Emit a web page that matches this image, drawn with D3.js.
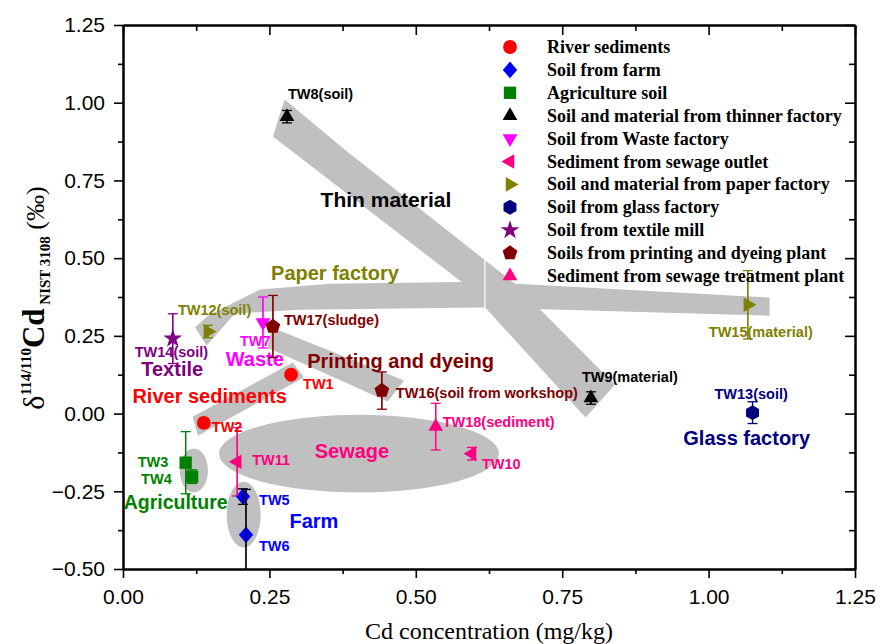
<!DOCTYPE html>
<html>
<head>
<meta charset="utf-8">
<script src="https://cdn.jsdelivr.net/npm/d3@7"></script>
<style>
  body { margin: 0; background: #fff; }
  svg { display: block; }
  .axis text { font-family: Arial, "Liberation Sans", sans-serif; font-size: 21px; fill: #000; }
  .axis path, .axis line { stroke: #000; }
</style>
</head>
<body>
<svg id="chart" width="880" height="644"></svg>
<script>
// ---- data ----
var groupNames = [
  "River sediments",
  "Soil from farm",
  "Agriculture soil",
  "Soil and material from thinner factory",
  "Soil from Waste factory",
  "Sediment from sewage outlet",
  "Soil and material from paper factory",
  "Soil from glass factory",
  "Soil from textile mill",
  "Soils from printing and dyeing plant",
  "Sediment from sewage treatment plant"
];

var sampleIds   = ["TW1", "TW2", "TW3", "TW4", "TW5", "TW6", "TW7", "TW8", "TW9",
                   "TW10", "TW11", "TW12", "TW13", "TW14", "TW15", "TW16", "TW17", "TW18"];
var sampleNames = ["TW1", "TW2", "TW3", "TW4", "TW5", "TW6", "TW7", "TW8(soil)", "TW9(material)",
                   "TW10", "TW11", "TW12(soil)", "TW13(soil)", "TW14(soil)", "TW15(material)",
                   "TW16(soil from workshop)", "TW17(sludge)", "TW18(sediment)"];
var sampleGroup = [0, 0, 2, 2, 1, 1, 4, 3, 3, 5, 5, 6, 7, 8, 6, 9, 9, 10];
var cdConc      = [0.287, 0.138, 0.107, 0.118, 0.205, 0.210, 0.239, 0.280, 0.799,
                   0.596, 0.195, 0.145, 1.075, 0.085, 1.067, 0.442, 0.256, 0.534];
var deltaCd     = [0.125, -0.030, -0.158, -0.203, -0.267, -0.390, 0.293, 0.955, 0.050,
                   -0.129, -0.155, 0.264, 0.003, 0.241, 0.350, 0.074, 0.280, -0.042];
var deltaErr    = [0.012, 0.015, 0.100, 0.022, 0.025, 0.146, 0.082, 0.020, 0.020,
                   0.020, 0.110, 0.020, 0.035, 0.080, 0.110, 0.060, 0.100, 0.075];

var xTicks = [0, 0.25, 0.5, 0.75, 1.0, 1.25];
var yTicks = [-0.5, -0.25, 0, 0.25, 0.5, 0.75, 1.0, 1.25];

// grey source regions drawn on the figure (data units)
var thinBand     = [[0.276, 1.010], [0.379, 0.849], [0.669, 0.418], [0.840, 0.093],
                    [0.790, -0.013], [0.580, 0.421], [0.256, 0.891]];
var paperBand    = [[0.123, 0.277], [0.145, 0.315], [0.234, 0.399], [0.353, 0.418],
                    [0.609, 0.424], [1.104, 0.373], [1.104, 0.315], [0.609, 0.341],
                    [0.302, 0.334], [0.191, 0.322], [0.143, 0.219]];
var printingBand = [[0.254, 0.277], [0.480, 0.106], [0.452, 0.039], [0.247, 0.212]];
var riverBand    = [[0.119, -0.010], [0.290, 0.164], [0.309, 0.116], [0.128, -0.071]];
// [cx, cy, rx, ry]
var ellipses = [[0.403, -0.129, 0.239, 0.125],
                [0.121, -0.183, 0.024, 0.071],
                [0.206, -0.325, 0.029, 0.106]];

var groupLabelText = ["Thin material", "Paper factory", "Waste", "Textile", "Printing and dyeing",
                      "River sediments", "Sewage", "Agriculture", "Farm", "Glass factory"];
var groupLabelX = [0.449, 0.362, 0.225, 0.084, 0.474, 0.148, 0.391, 0.090, 0.326, 1.065];
var groupLabelY = [0.688, 0.453, 0.177, 0.143, 0.170, 0.055, -0.119, -0.286, -0.347, -0.077];
var groupLabelColor = ["#000000", "#808000", "#ff00ff", "#800080", "#800000",
                       "#ff0000", "#ff0080", "#008000", "#0000ff", "#000080"];

// ---- styles ----
var groupColors  = ["#ff0000", "#0000ff", "#008000", "#000000", "#ff00ff", "#ff0080",
                    "#808000", "#000080", "#800080", "#800000", "#ff0080"];
var groupSymbols = ["circle", "diamond", "square", "up", "down", "left", "right",
                    "hexagon", "star", "pentagon", "up"];
var groupLabelSize = ["21px", "20px", "20px", "20px", "20px", "20px", "20px", "19.5px", "20px", "20px"];
// label offset from marker centre, px
var labelOffsets = {
  TW1: [12, 9], TW2: [8, 4], TW3: [-48, -1], TW4: [-51, 2], TW5: [16, 3], TW6: [13, 11],
  TW7: [-23, 19], TW8: [1, -23], TW9: [-9, -21], TW10: [10, 10], TW11: [15, -2],
  TW12: [-30, -22], TW13: [-38, -19], TW14: [-38, 13], TW15: [-39, 27], TW16: [14, 2],
  TW17: [11, -7], TW18: [7, -5]
};
var errColorOverride = { TW5: "#000000", TW6: "#000000" };

var svg = d3.select("#chart");
var x = d3.scaleLinear().domain([0, 1.25]).range([123, 855]);
var y = d3.scaleLinear().domain([-0.5, 1.25]).range([569, 25]);

// clip for the plot area
svg.append("defs").append("clipPath").attr("id", "plotClip")
  .append("rect").attr("x", 123).attr("y", 25).attr("width", 732).attr("height", 544);

// symbol shapes
function polygonType(n, rotDeg, sx, sy) {
  return {
    draw: function(ctx, size) {
      var r = Math.sqrt(size);
      for (var i = 0; i < n; i++) {
        var a = (rotDeg + i * 360 / n) * Math.PI / 180;
        var px = r * sx * Math.cos(a), py = r * sy * Math.sin(a);
        if (i === 0) ctx.moveTo(px, py); else ctx.lineTo(px, py);
      }
      ctx.closePath();
    }
  };
}
var symbolTypes = {
  circle: [d3.symbolCircle, 150],
  diamond: [polygonType(4, -90, 0.9, 1.05), 64],
  square: [polygonType(4, 45, 1, 1), 76],
  up: [polygonType(3, -90, 1, 1), 72],
  down: [polygonType(3, 90, 1, 1), 72],
  left: [polygonType(3, 180, 1, 1), 72],
  right: [polygonType(3, 0, 1, 1), 72],
  hexagon: [polygonType(6, -90, 1, 1), 56],
  star: [d3.symbolStar, 110],
  pentagon: [polygonType(5, -90, 1, 1), 60]
};
function symbolPath(name) {
  var s = symbolTypes[name];
  return d3.symbol().type(s[0]).size(s[1])();
}

// grey regions
var shapes = svg.append("g").attr("clip-path", "url(#plotClip)");
var line = d3.line().x(function(d) { return x(d[0]); }).y(function(d) { return y(d[1]); });
[thinBand, paperBand, printingBand, riverBand].forEach(function(poly) {
  shapes.append("path").attr("d", line(poly) + "Z").attr("fill", "#c0c0c0");
});
shapes.selectAll("ellipse").data(ellipses).enter().append("ellipse")
  .attr("cx", function(d) { return x(d[0]); })
  .attr("cy", function(d) { return y(d[1]); })
  .attr("rx", function(d) { return x(d[2]) - x(0); })
  .attr("ry", function(d) { return y(0) - y(d[3]); })
  .attr("fill", "#c0c0c0");
// thin white seam where the bands were joined
shapes.append("line")
  .attr("x1", x(0.618)).attr("x2", x(0.618))
  .attr("y1", y(0.50)).attr("y2", y(0.335))
  .attr("stroke", "#fff").attr("stroke-width", 1.2);

// group names
svg.append("g").selectAll("text").data(groupLabelText).enter().append("text")
  .attr("x", function(d, i) { return x(groupLabelX[i]); })
  .attr("y", function(d, i) { return y(groupLabelY[i]); })
  .attr("text-anchor", "middle")
  .attr("dominant-baseline", "central")
  .attr("font-family", "Arial, 'Liberation Sans', sans-serif")
  .attr("font-weight", "bold")
  .attr("font-size", function(d, i) { return groupLabelSize[i]; })
  .attr("fill", function(d, i) { return groupLabelColor[i]; })
  .text(function(d) { return d; });

// samples
var samples = sampleIds.map(function(id, i) {
  return { id: id, name: sampleNames[i], g: sampleGroup[i], cx: cdConc[i], cy: deltaCd[i], e: deltaErr[i] };
});

var errG = svg.append("g").attr("clip-path", "url(#plotClip)");
samples.forEach(function(s) {
  var col = errColorOverride[s.id] || groupColors[s.g];
  var px = x(s.cx), y1 = y(s.cy + s.e), y2 = y(s.cy - s.e);
  errG.append("line").attr("x1", px).attr("x2", px).attr("y1", y1).attr("y2", y2)
    .attr("stroke", col).attr("stroke-width", 1.3);
  [y1, y2].forEach(function(yy) {
    errG.append("line").attr("x1", px - 5).attr("x2", px + 5).attr("y1", yy).attr("y2", yy)
      .attr("stroke", col).attr("stroke-width", 1.3);
  });
});

svg.append("g").selectAll("path").data(samples).enter().append("path")
  .attr("d", function(d) { return symbolPath(groupSymbols[d.g]); })
  .attr("transform", function(d) { return "translate(" + x(d.cx) + "," + y(d.cy) + ")"; })
  .attr("fill", function(d) { return groupColors[d.g]; });

// error bar stems show through the markers in the original
var stemG = svg.append("g").attr("clip-path", "url(#plotClip)");
samples.forEach(function(s) {
  var col = errColorOverride[s.id] || groupColors[s.g];
  var px = x(s.cx);
  stemG.append("line").attr("x1", px).attr("x2", px)
    .attr("y1", y(s.cy + s.e)).attr("y2", y(s.cy - s.e))
    .attr("stroke", col).attr("stroke-width", 1.1);
});

svg.append("g").selectAll("text").data(samples).enter().append("text")
  .attr("x", function(d) { return x(d.cx) + labelOffsets[d.id][0]; })
  .attr("y", function(d) { return y(d.cy) + labelOffsets[d.id][1]; })
  .attr("dominant-baseline", "central")
  .attr("font-family", "Arial, 'Liberation Sans', sans-serif")
  .attr("font-weight", "bold")
  .attr("font-size", "14.5px")
  .attr("fill", function(d) { return groupColors[d.g]; })
  .text(function(d) { return d.name; });

// axes
function minorTicks(domain) {
  var out = [];
  for (var v = domain[0] + 0.125; v < domain[1]; v += 0.25) out.push(+v.toFixed(3));
  return out;
}
var fmt = d3.format(".2f");

svg.append("g").attr("class", "axis").attr("transform", "translate(0,569)")
  .call(d3.axisBottom(x).tickValues(xTicks).tickFormat(fmt).tickSize(9).tickSizeOuter(0).tickPadding(11));
svg.append("g").attr("class", "axis").attr("transform", "translate(0,569)")
  .call(d3.axisBottom(x).tickValues(minorTicks([0, 1.25])).tickFormat("").tickSize(5).tickSizeOuter(0));
svg.append("g").attr("class", "axis").attr("transform", "translate(123,0)")
  .call(d3.axisLeft(y).tickValues(yTicks).tickFormat(fmt).tickSize(9).tickSizeOuter(0).tickPadding(9));
svg.append("g").attr("class", "axis").attr("transform", "translate(123,0)")
  .call(d3.axisLeft(y).tickValues(minorTicks([-0.5, 1.25])).tickFormat("").tickSize(5).tickSizeOuter(0));
// mirrored top and right, ticks pointing in
svg.append("g").attr("class", "axis").attr("transform", "translate(0,25)")
  .call(d3.axisTop(x).tickValues(xTicks).tickFormat("").tickSize(-10).tickSizeOuter(0));
svg.append("g").attr("class", "axis").attr("transform", "translate(0,25)")
  .call(d3.axisTop(x).tickValues(minorTicks([0, 1.25])).tickFormat("").tickSize(-6).tickSizeOuter(0));
svg.append("g").attr("class", "axis").attr("transform", "translate(855,0)")
  .call(d3.axisRight(y).tickValues(yTicks).tickFormat("").tickSize(-10).tickSizeOuter(0));
svg.append("g").attr("class", "axis").attr("transform", "translate(855,0)")
  .call(d3.axisRight(y).tickValues(minorTicks([-0.5, 1.25])).tickFormat("").tickSize(-6).tickSizeOuter(0));
svg.selectAll(".axis path.domain").attr("stroke-width", 2);
svg.selectAll(".axis .tick line").attr("stroke-width", 1.6);

// axis titles
svg.append("text")
  .attr("x", x(0.625)).attr("y", 639)
  .attr("text-anchor", "middle")
  .attr("font-family", "'Liberation Serif', 'Times New Roman', serif")
  .attr("font-size", "24px")
  .text("Cd concentration (mg/kg)");

var yt = svg.append("text")
  .attr("transform", "translate(44,298) rotate(-90)")
  .attr("text-anchor", "middle")
  .attr("font-family", "'Liberation Serif', 'Times New Roman', serif");
yt.append("tspan").attr("font-size", "30px").text("δ");
yt.append("tspan").attr("font-size", "15px").attr("font-weight", "bold").attr("dy", -13).text("114/110");
yt.append("tspan").attr("font-size", "31px").attr("font-weight", "bold").attr("dy", 13).text("Cd");
yt.append("tspan").attr("font-size", "15px").attr("font-weight", "bold").attr("dy", 6).text(" NIST 3108");
yt.append("tspan").attr("font-size", "26px").attr("dy", -6).text(" (‰)");

// legend
var leg = svg.append("g").attr("transform", "translate(510,47)");
var rows = leg.selectAll("g").data(groupNames).enter().append("g")
  .attr("transform", function(d, i) { return "translate(0," + (i * 22.9) + ")"; });
rows.append("path")
  .attr("d", function(d, i) { return symbolPath(groupSymbols[i]); })
  .attr("fill", function(d, i) { return groupColors[i]; });
rows.append("text")
  .attr("x", 37)
  .attr("dominant-baseline", "central")
  .attr("font-family", "'Liberation Serif', 'Times New Roman', serif")
  .attr("font-weight", "bold")
  .attr("font-size", "18px")
  .text(function(d) { return d; });
</script>
</body>
</html>
